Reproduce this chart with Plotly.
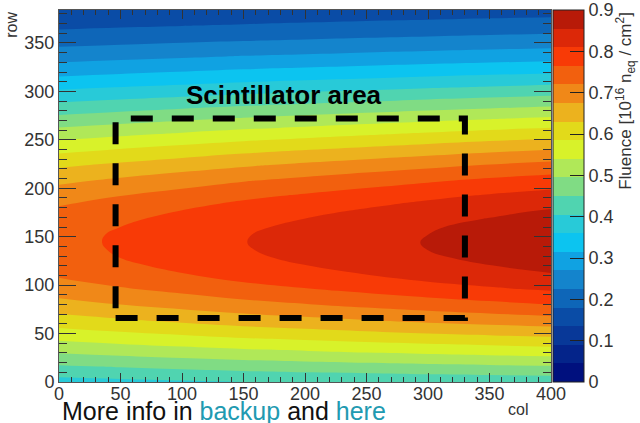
import plotly.graph_objects as go

# Sensor grid: column and row coordinates of the sampled fluence map
cols = [0, 50, 100, 150, 200, 250, 300, 350, 400]
rows = [0, 16, 32, 48, 64, 80, 96, 104, 112, 120, 128, 136, 144, 152, 160,
        168, 176, 184, 192, 208, 224, 240, 256, 272, 288, 304, 320, 336,
        352, 368, 384]

# Fluence [1e16 n_eq/cm^2], one list per row (bottom to top), one value per column
fluence = [
    [0.387, 0.393, 0.399, 0.405, 0.409, 0.412, 0.416, 0.419, 0.421],  # 0
    [0.445, 0.453, 0.461, 0.468, 0.474, 0.479, 0.484, 0.488, 0.492],  # 16
    [0.503, 0.513, 0.523, 0.532, 0.539, 0.547, 0.553, 0.559, 0.565],  # 32
    [0.559, 0.572, 0.583, 0.595, 0.604, 0.613, 0.622, 0.629, 0.636],  # 48
    [0.612, 0.626, 0.640, 0.653, 0.664, 0.675, 0.686, 0.695, 0.704],  # 64
    [0.659, 0.675, 0.690, 0.706, 0.718, 0.731, 0.743, 0.754, 0.765],  # 80
    [0.698, 0.716, 0.732, 0.749, 0.763, 0.777, 0.791, 0.804, 0.816],  # 96
    [0.714, 0.732, 0.750, 0.767, 0.782, 0.796, 0.811, 0.824, 0.837],  # 104
    [0.727, 0.746, 0.764, 0.782, 0.797, 0.812, 0.827, 0.841, 0.854],  # 112
    [0.737, 0.757, 0.775, 0.794, 0.809, 0.825, 0.840, 0.854, 0.868],  # 120
    [0.745, 0.765, 0.783, 0.802, 0.818, 0.834, 0.849, 0.864, 0.878],  # 128
    [0.750, 0.769, 0.788, 0.807, 0.823, 0.839, 0.855, 0.870, 0.884],  # 136
    [0.751, 0.771, 0.790, 0.809, 0.825, 0.841, 0.857, 0.872, 0.886],  # 144
    [0.750, 0.770, 0.789, 0.808, 0.823, 0.839, 0.855, 0.870, 0.884],  # 152
    [0.745, 0.765, 0.784, 0.803, 0.819, 0.835, 0.851, 0.866, 0.879],  # 160
    [0.738, 0.758, 0.777, 0.795, 0.811, 0.827, 0.843, 0.857, 0.871],  # 168
    [0.729, 0.748, 0.767, 0.785, 0.800, 0.816, 0.832, 0.846, 0.860],  # 176
    [0.716, 0.735, 0.754, 0.772, 0.787, 0.802, 0.817, 0.832, 0.845],  # 184
    [0.702, 0.720, 0.738, 0.756, 0.771, 0.786, 0.801, 0.815, 0.828],  # 192
    [0.665, 0.683, 0.700, 0.717, 0.731, 0.745, 0.759, 0.773, 0.785],  # 208
    [0.622, 0.638, 0.654, 0.669, 0.683, 0.696, 0.709, 0.722, 0.733],  # 224
    [0.572, 0.587, 0.601, 0.616, 0.628, 0.640, 0.652, 0.664, 0.674],  # 240
    [0.518, 0.532, 0.545, 0.558, 0.569, 0.580, 0.591, 0.602, 0.611],  # 256
    [0.463, 0.475, 0.487, 0.498, 0.508, 0.518, 0.528, 0.537, 0.546],  # 272
    [0.407, 0.417, 0.428, 0.438, 0.447, 0.455, 0.464, 0.472, 0.480],  # 288
    [0.352, 0.362, 0.370, 0.379, 0.387, 0.394, 0.402, 0.409, 0.416],  # 304
    [0.300, 0.308, 0.316, 0.324, 0.330, 0.336, 0.343, 0.349, 0.354],  # 320
    [0.252, 0.259, 0.265, 0.272, 0.277, 0.283, 0.288, 0.293, 0.298],  # 336
    [0.209, 0.214, 0.220, 0.225, 0.229, 0.234, 0.238, 0.242, 0.246],  # 352
    [0.170, 0.175, 0.179, 0.183, 0.187, 0.191, 0.194, 0.198, 0.201],  # 368
    [0.137, 0.140, 0.144, 0.147, 0.150, 0.153, 0.156, 0.159, 0.161],  # 384
]

# Scintillator outline in (col, row) coordinates
scint_cols = [46, 330]
scint_rows = [66, 272]

colorbar_ticks = [0, 0.1, 0.2, 0.3, 0.4, 0.5, 0.6, 0.7, 0.8, 0.9]

# 20 contour bands between 0 and 0.9 (rainbow palette, low to high)
band_colors = [
    "#00107e", "#04248a", "#083898", "#0a4ca6", "#0e66b8",
    "#1484cc", "#10a2e2", "#0cc4f0", "#28cad8", "#50d4b0",
    "#80dc84", "#b0e858", "#d8f22a", "#e2da1a", "#ecb21e",
    "#f08818", "#f2600e", "#f83a06", "#dc2808", "#b81a08",
]
z_min, z_max = 0.0, 0.9
n_bands = len(band_colors)

colorscale = []
for k, c in enumerate(band_colors):
    colorscale.append([k / n_bands, c])
    colorscale.append([(k + 1) / n_bands, c])

font_family = "Liberation Sans, Arial, Helvetica, sans-serif"
tick_color = "#333333"

fig = go.Figure()
fig.add_trace(go.Contour(
    x=cols, y=rows, z=fluence,
    zmin=z_min, zmax=z_max,
    colorscale=colorscale,
    autocontour=False,
    contours=dict(start=z_min, end=z_max, size=(z_max - z_min) / n_bands,
                  coloring="fill", showlines=False),
    line=dict(width=0, smoothing=1.2),
    colorbar=dict(
        x=1.004, xanchor="left", xpad=0, y=0.5, yanchor="middle",
        len=1.0, lenmode="fraction", ypad=0,
        thickness=31, thicknessmode="pixels",
        outlinewidth=1, outlinecolor="#222222",
        tickvals=colorbar_ticks, ticktext=[f"{v:g}" for v in colorbar_ticks],
        ticks="inside", ticklen=14, tickcolor="#222222", tickwidth=1,
        tickfont=dict(family=font_family, size=18, color=tick_color),
    ),
    showscale=True,
))

# Dashed outline of the scintillator area
fig.add_shape(
    type="rect", xref="x", yref="y",
    x0=scint_cols[0], x1=scint_cols[1], y0=scint_rows[0], y1=scint_rows[1],
    line=dict(color="black", width=6, dash="22px,19px"),
    fillcolor="rgba(0,0,0,0)",
)

annotations = [
    dict(text="<b>Scintillator area</b>", x=183, y=296, xref="x", yref="y",
         showarrow=False, font=dict(family=font_family, size=26, color="black")),
    dict(text="row", x=-0.098, y=1.0, xref="paper", yref="paper",
         xanchor="center", yanchor="top", textangle=-90, showarrow=False,
         font=dict(family=font_family, size=16, color=tick_color)),
    dict(text="col", x=0.933, y=-0.075, xref="paper", yref="paper",
         xanchor="center", yanchor="middle", showarrow=False,
         font=dict(family=font_family, size=16, color=tick_color)),
    dict(text="Fluence [10<sup>16</sup> n<sub>eq</sub> / cm<sup>2</sup>]",
         x=1.150, y=1.0, xref="paper", yref="paper",
         xanchor="center", yanchor="top", textangle=-90, showarrow=False,
         font=dict(family=font_family, size=17, color=tick_color)),
    dict(text="More info in <span style='color:#219ab1'>backup</span> and "
              "<span style='color:#219ab1'>here</span>",
         x=0.002, y=-0.078, xref="paper", yref="paper",
         xanchor="left", yanchor="middle", showarrow=False,
         font=dict(family=font_family, size=25, color="#111111")),
]

axis_common = dict(
    showgrid=False, zeroline=False,
    showline=True, linecolor="#555555", linewidth=1, mirror="ticks",
    ticks="inside", tickcolor="#333333", tickwidth=1,
    tickfont=dict(family=font_family, size=18, color=tick_color),
)

fig.update_layout(
    width=640, height=423, autosize=False,
    margin=dict(l=59, r=89, t=10, b=41),
    paper_bgcolor="white", plot_bgcolor="white",
    annotations=annotations,
    xaxis=dict(range=[0, 400], tick0=0, dtick=50, ticklen=9,
               ticklabelstandoff=-5,
               minor=dict(ticks="inside", dtick=10, ticklen=5,
                          tickcolor="#333333", showgrid=False),
               **axis_common),
    yaxis=dict(range=[0, 384], tick0=0, dtick=50, ticklen=17,
               minor=dict(ticks="inside", dtick=10, ticklen=8,
                          tickcolor="#333333", showgrid=False),
               **axis_common),
)

fig.write_html("out.html")
